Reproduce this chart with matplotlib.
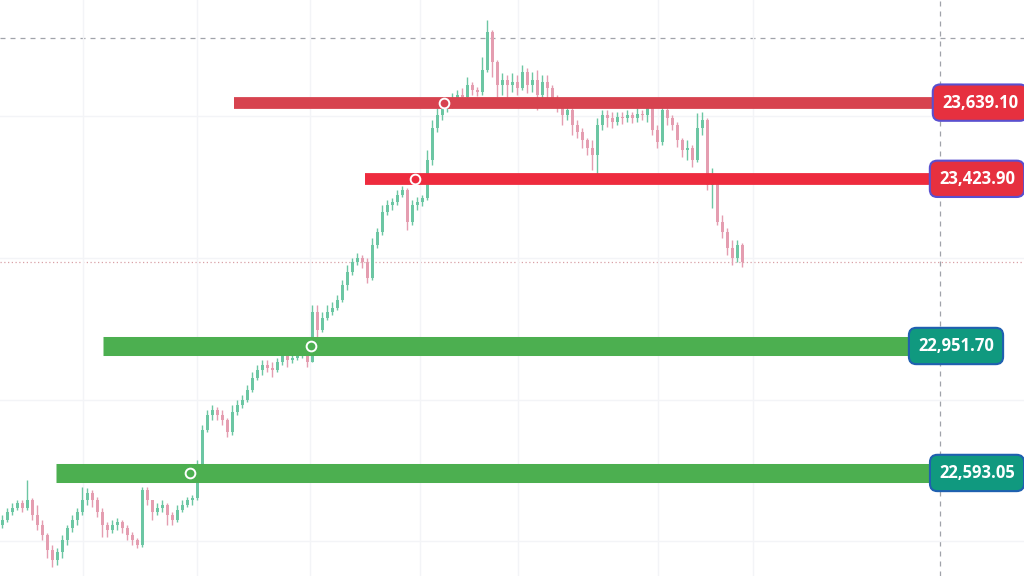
import matplotlib
matplotlib.use("Agg")
import matplotlib.pyplot as plt

# candle data (one candle per bar, open = previous close)
first_open = 22446
closes = [22460, 22482, 22494, 22508, 22494, 22516, 22474, 22446, 22417, 22375,
          22347, 22369, 22403, 22437, 22460, 22482, 22516, 22536, 22516, 22482,
          22446, 22432, 22446, 22454, 22437, 22417, 22403, 22389, 22545, 22516,
          22482, 22494, 22502, 22474, 22460, 22488, 22502, 22516, 22522, 22615,
          22714, 22756, 22771, 22756, 22742, 22708, 22765, 22785, 22799, 22827,
          22861, 22884, 22898, 22889, 22884, 22906, 22926, 22912, 22918, 22926,
          22935, 22906, 23048, 22997, 23031, 23048, 23059, 23081, 23124, 23161,
          23189, 23200, 23189, 23144, 23237, 23274, 23330, 23350, 23358, 23378,
          23392, 23302, 23350, 23358, 23370, 23477, 23567, 23604, 23632, 23641,
          23652, 23661, 23655, 23689, 23675, 23669, 23731, 23839, 23754, 23689,
          23703, 23689, 23697, 23680, 23726, 23689, 23703, 23661, 23697, 23680,
          23652, 23632, 23604, 23618, 23576, 23556, 23533, 23511, 23491, 23576,
          23604, 23596, 23584, 23598, 23596, 23604, 23596, 23607, 23604, 23632,
          23562, 23528, 23618, 23596, 23576, 23533, 23505, 23511, 23477, 23567,
          23590, 23406, 23435, 23302, 23274, 23228, 23200, 23237, 23189]
highs = [22474, 22494, 22508, 22516, 22516, 22573, 22522, 22502, 22460, 22423,
         22389, 22381, 22417, 22446, 22474, 22494, 22553, 22550, 22545, 22525,
         22494, 22454, 22460, 22465, 22460, 22446, 22426, 22409, 22553, 22553,
         22516, 22508, 22516, 22508, 22482, 22502, 22516, 22525, 22530, 22629,
         22728, 22771, 22785, 22779, 22771, 22748, 22785, 22799, 22813, 22841,
         22878, 22898, 22912, 22912, 22906, 22918, 22940, 22940, 22935, 22940,
         22946, 22940, 23067, 23067, 23048, 23067, 23076, 23096, 23138, 23180,
         23200, 23214, 23209, 23200, 23257, 23285, 23350, 23364, 23370, 23392,
         23404, 23398, 23364, 23372, 23378, 23505, 23590, 23624, 23646, 23652,
         23666, 23675, 23680, 23711, 23697, 23683, 23768, 23872, 23844, 23760,
         23723, 23717, 23723, 23717, 23745, 23737, 23726, 23731, 23717, 23717,
         23689, 23661, 23646, 23632, 23624, 23590, 23567, 23539, 23533, 23596,
         23618, 23618, 23613, 23613, 23613, 23618, 23613, 23624, 23618, 23646,
         23641, 23576, 23646, 23624, 23604, 23584, 23539, 23533, 23519, 23610,
         23613, 23596, 23454, 23435, 23322, 23285, 23251, 23251, 23242]
lows = [22437, 22454, 22474, 22488, 22482, 22488, 22460, 22432, 22403, 22352,
        22327, 22333, 22352, 22389, 22426, 22446, 22474, 22502, 22497, 22468,
        22412, 22412, 22423, 22432, 22423, 22403, 22389, 22381, 22384, 22502,
        22460, 22474, 22482, 22446, 22446, 22454, 22482, 22497, 22502, 22516,
        22607, 22708, 22742, 22742, 22728, 22694, 22700, 22756, 22776, 22793,
        22821, 22855, 22870, 22878, 22864, 22878, 22898, 22892, 22903, 22912,
        22918, 22892, 22906, 22968, 22991, 23025, 23039, 23053, 23076, 23110,
        23152, 23180, 23172, 23129, 23138, 23228, 23265, 23322, 23336, 23350,
        23372, 23279, 23293, 23336, 23347, 23364, 23463, 23556, 23590, 23613,
        23624, 23632, 23646, 23646, 23661, 23658, 23661, 23726, 23711, 23655,
        23661, 23655, 23669, 23661, 23675, 23666, 23669, 23618, 23646, 23646,
        23632, 23613, 23576, 23590, 23548, 23539, 23511, 23491, 23449, 23426,
        23562, 23570, 23567, 23576, 23579, 23584, 23581, 23584, 23590, 23584,
        23548, 23511, 23519, 23576, 23562, 23514, 23485, 23477, 23457, 23471,
        23548, 23392, 23341, 23293, 23257, 23209, 23180, 23189, 23175]

# support / resistance levels
res_levels = [23639.10, 23423.90]
sup_levels = [22951.70, 22593.05]
res_start = [46.4, 72.6]      # bar index where each zone starts
sup_start = [20.2, 10.8]
# breakout points (bar index, level)
cross_idx = [37.6, 61.8, 82.6, 88.4]
cross_lvl = [22593.05, 22951.70, 23423.90, 23639.10]
crosshair_price = 23822
crosshair_idx = 187.6

opens = [first_open] + closes[:-1]
n = len(closes)
xs = list(range(n))

fig = plt.figure(figsize=(10.24, 5.76), dpi=100)
ax = fig.add_axes([0, 0, 1, 1])
ax.set_xlim(-0.4, 204.4)
ax.set_ylim(22302, 23929)

# faint grid
ax.set_yticks([22400, 22800, 23200, 23600])
ax.set_xticks([16.2, 39, 61.6, 83.6, 103.2, 131.2, 150.2])
ax.grid(True, color="#f3f4f7", lw=1)
ax.tick_params(length=0, labelleft=False, labelbottom=False)
for s in ax.spines.values():
    s.set_visible(False)

up_c = "#6cc6a3"
dn_c = "#e49db0"
cols = [up_c if c >= o else dn_c for o, c in zip(opens, closes)]
ax.vlines(xs, lows, highs, colors=cols, lw=1.0, zorder=2)
bottoms = [min(o, c) for o, c in zip(opens, closes)]
heights = [max(abs(c - o), 3) for o, c in zip(opens, closes)]
ax.bar(xs, heights, bottom=bottoms, width=0.6, color=cols, zorder=2)

# current price and crosshair
ax.axhline(closes[-1], color="#d9a0a6", lw=0.9, ls=(0, (1, 2)), zorder=1)
ax.axhline(crosshair_price, color="#a0a3aa", lw=0.9, ls=(0, (4, 4)), zorder=1)
ax.axvline(crosshair_idx, color="#a0a3aa", lw=0.9, ls=(0, (4, 4)), zorder=1)

# zones
band_ends = {23639.10: 187, 23423.90: 186.2, 22951.70: 182, 22593.05: 186.2}
label_x = {23639.10: 195.6, 23423.90: 195, 22951.70: 190.8, 22593.05: 195}
res_cols = ["#d7434f", "#ee2b3e"]
for lvl, x0, c in zip(res_levels, res_start, res_cols):
    ax.hlines(lvl, x0, band_ends[lvl], colors=c, lw=8.5, zorder=3)
for lvl, x0 in zip(sup_levels, sup_start):
    ax.hlines(lvl, x0, band_ends[lvl], colors="#4caf50", lw=13.7, zorder=3)

ax.plot(cross_idx, cross_lvl, "o", ms=7, mfc="none", mec="white", mew=1.4, zorder=4)

for lvl in res_levels:
    ax.text(label_x[lvl], lvl, f"{lvl:,.2f}", ha="center", va="center",
            color="white", fontsize=12, fontweight="bold",
            family=["Open Sans", "DejaVu Sans"], zorder=5,
            bbox=dict(boxstyle="round,pad=0.55,rounding_size=0.45",
                      fc="#e6303f", ec="#5a4fcf", lw=1.5))
for lvl in sup_levels:
    ax.text(label_x[lvl], lvl, f"{lvl:,.2f}", ha="center", va="center",
            color="white", fontsize=12, fontweight="bold",
            family=["Open Sans", "DejaVu Sans"], zorder=5,
            bbox=dict(boxstyle="round,pad=0.55,rounding_size=0.45",
                      fc="#10997f", ec="#1f60b0", lw=1.5))

fig.savefig("out.png", dpi=100)
